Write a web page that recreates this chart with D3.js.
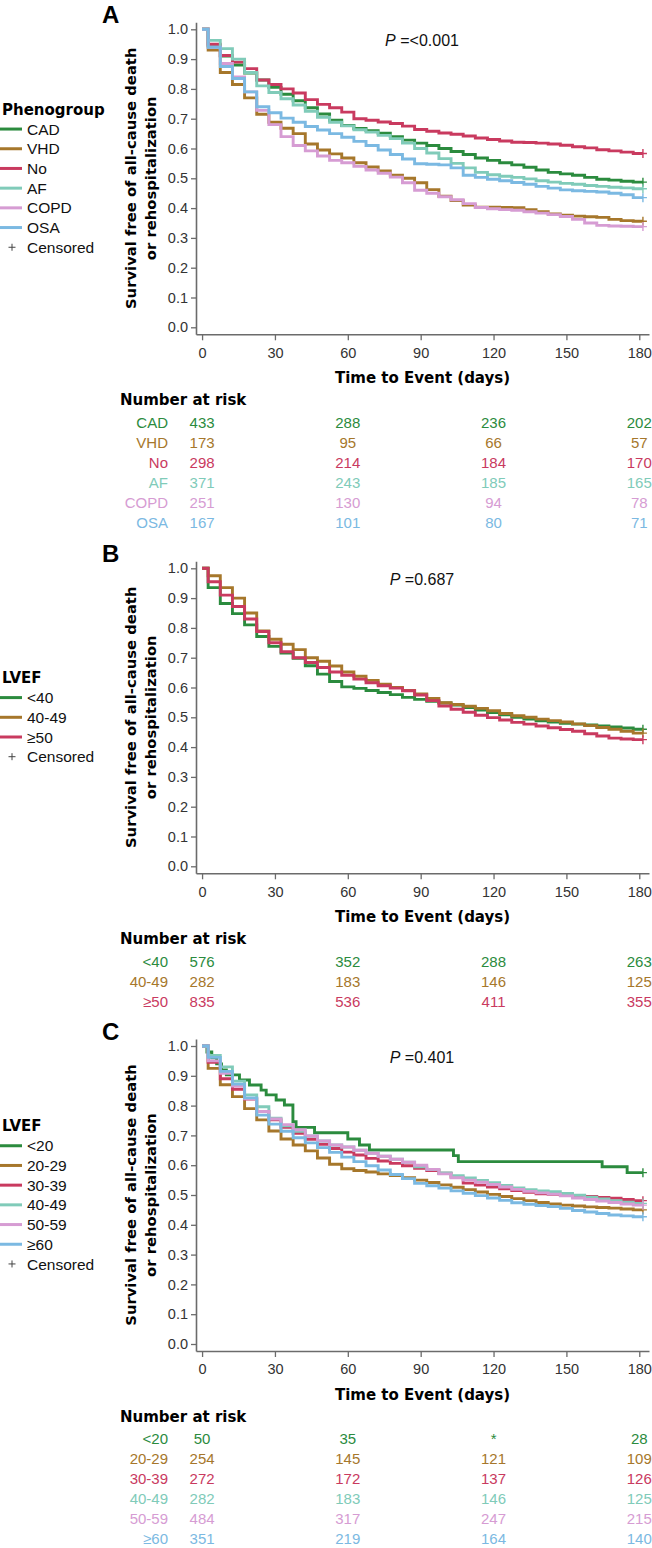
<!DOCTYPE html>
<html><head><meta charset="utf-8">
<script src="https://cdn.jsdelivr.net/npm/d3@7"></script>
<style>
html,body{margin:0;padding:0;background:#fff;}
svg{display:block;}
</style></head>
<body>
<svg id="chart" width="652" height="1548"></svg>
<script>
// ---------- DATA ----------
const days = [0,5,10,15,20,25,30,35,40,45,50,55,60,65,70,75,80,85,90,95,100,105,110,115,120,125,130,135,140,145,150,155,160,165,170,175,180];
const xTicks = [0,30,60,90,120,150,180];
const yTicks = [0,0.1,0.2,0.3,0.4,0.5,0.6,0.7,0.8,0.9,1.0];
const riskTimes = [0,60,120,180];

// Panel A: phenogroups
const groupsA = ["CAD","VHD","No","AF","COPD","OSA"];
const survCAD  = [1.0,0.945,0.91,0.88,0.853,0.83,0.805,0.782,0.76,0.737,0.716,0.695,0.677,0.667,0.66,0.651,0.64,0.628,0.618,0.61,0.6,0.59,0.58,0.568,0.56,0.552,0.545,0.537,0.528,0.52,0.515,0.51,0.503,0.497,0.494,0.49,0.487];
const survVHD  = [1.0,0.93,0.855,0.815,0.77,0.715,0.688,0.668,0.65,0.615,0.595,0.582,0.568,0.552,0.538,0.525,0.51,0.5,0.485,0.462,0.44,0.425,0.41,0.403,0.403,0.402,0.401,0.395,0.388,0.38,0.376,0.373,0.371,0.369,0.362,0.358,0.356];
const survNo   = [1.0,0.95,0.912,0.89,0.868,0.83,0.815,0.80,0.786,0.764,0.748,0.737,0.722,0.70,0.695,0.689,0.684,0.675,0.664,0.658,0.652,0.648,0.642,0.635,0.63,0.625,0.621,0.62,0.618,0.615,0.611,0.606,0.602,0.596,0.592,0.588,0.583];
const survAF   = [1.0,0.963,0.935,0.9,0.855,0.81,0.788,0.767,0.746,0.725,0.705,0.688,0.676,0.663,0.655,0.644,0.633,0.618,0.6,0.585,0.566,0.55,0.535,0.52,0.512,0.507,0.503,0.498,0.492,0.487,0.483,0.48,0.476,0.473,0.47,0.468,0.465];
const survCOPD = [1.0,0.94,0.885,0.84,0.79,0.728,0.68,0.64,0.61,0.592,0.575,0.56,0.552,0.54,0.528,0.517,0.504,0.485,0.46,0.45,0.438,0.428,0.415,0.402,0.398,0.395,0.393,0.388,0.383,0.378,0.372,0.362,0.35,0.342,0.34,0.339,0.338];
const survOSA  = [1.0,0.94,0.875,0.835,0.79,0.74,0.72,0.702,0.688,0.674,0.662,0.65,0.638,0.624,0.61,0.595,0.58,0.565,0.549,0.547,0.545,0.535,0.51,0.503,0.497,0.492,0.486,0.48,0.473,0.467,0.461,0.458,0.456,0.454,0.45,0.445,0.435];
const riskCAD  = [433,288,236,202];
const riskVHD  = [173,95,66,57];
const riskNo   = [298,214,184,170];
const riskAF   = [371,243,185,165];
const riskCOPD = [251,130,94,78];
const riskOSA  = [167,101,80,71];

// Panel B: LVEF 3 groups
const groupsB = ["<40","40-49","\u226550"];
const survB40   = [1.0,0.935,0.882,0.848,0.81,0.771,0.738,0.716,0.698,0.673,0.645,0.62,0.602,0.597,0.59,0.583,0.576,0.567,0.56,0.554,0.548,0.541,0.533,0.524,0.516,0.508,0.5,0.494,0.488,0.484,0.48,0.477,0.474,0.471,0.468,0.464,0.46];
const survB4049 = [1.0,0.975,0.935,0.9,0.85,0.79,0.762,0.745,0.727,0.7,0.688,0.672,0.652,0.638,0.624,0.611,0.6,0.59,0.578,0.563,0.549,0.543,0.537,0.53,0.522,0.513,0.505,0.5,0.494,0.489,0.484,0.478,0.472,0.466,0.46,0.453,0.447];
const survB50   = [1.0,0.955,0.91,0.872,0.83,0.788,0.75,0.72,0.70,0.684,0.667,0.652,0.641,0.628,0.616,0.606,0.598,0.589,0.575,0.556,0.538,0.527,0.517,0.507,0.499,0.491,0.483,0.477,0.471,0.465,0.459,0.453,0.445,0.437,0.43,0.427,0.425];
const riskB40   = [576,352,288,263];
const riskB4049 = [282,183,146,125];
const riskB50   = [835,536,411,355];

// Panel C: LVEF 6 groups
const groupsC = ["<20","20-29","30-39","40-49","50-59","\u226560"];
const stepsC20Days = [0,2,4,6,8,10,15.4,19.5,24.3,26.4,30.5,33.9,37.4,38.7,46.3,60,64.8,68.9,103.5,105.5,164.7,175];
const stepsC20Surv = [1.0,0.98,0.96,0.94,0.92,0.903,0.886,0.869,0.852,0.836,0.819,0.802,0.746,0.727,0.709,0.688,0.668,0.651,0.632,0.612,0.595,0.575];
const survC2029 = [1.0,0.925,0.87,0.83,0.79,0.752,0.715,0.688,0.668,0.648,0.624,0.603,0.588,0.582,0.577,0.571,0.565,0.558,0.55,0.542,0.534,0.526,0.518,0.51,0.502,0.495,0.488,0.481,0.475,0.47,0.466,0.463,0.46,0.458,0.456,0.453,0.45];
const survC3039 = [1.0,0.945,0.89,0.855,0.822,0.78,0.752,0.727,0.707,0.687,0.67,0.656,0.644,0.634,0.623,0.614,0.606,0.598,0.59,0.582,0.573,0.56,0.54,0.533,0.527,0.521,0.515,0.509,0.504,0.502,0.5,0.497,0.495,0.492,0.489,0.485,0.481];
const survC4049 = [1.0,0.968,0.93,0.882,0.836,0.796,0.758,0.732,0.714,0.698,0.681,0.668,0.661,0.65,0.64,0.63,0.62,0.61,0.595,0.585,0.574,0.565,0.557,0.549,0.541,0.532,0.524,0.518,0.514,0.511,0.505,0.499,0.493,0.487,0.481,0.476,0.472];
const survC5059 = [1.0,0.95,0.908,0.866,0.823,0.78,0.755,0.736,0.719,0.698,0.681,0.668,0.661,0.65,0.64,0.63,0.62,0.61,0.6,0.586,0.571,0.558,0.55,0.543,0.535,0.527,0.519,0.512,0.507,0.503,0.497,0.49,0.485,0.48,0.475,0.47,0.466];
const survC60   = [1.0,0.962,0.915,0.872,0.826,0.768,0.738,0.714,0.692,0.675,0.659,0.643,0.627,0.612,0.598,0.584,0.569,0.555,0.539,0.531,0.523,0.514,0.506,0.498,0.49,0.482,0.474,0.469,0.465,0.461,0.455,0.448,0.443,0.438,0.433,0.43,0.427];
const riskC20   = ["50","35","*","28"];
const riskC2029 = [254,145,121,109];
const riskC3039 = [272,172,137,126];
const riskC4049 = [282,183,146,125];
const riskC5059 = [484,317,247,215];
const riskC60   = [351,219,164,140];

const pValues = ["<0.001","0.687","0.401"];
const lastDay = 181.5;

// ---------- STYLE ----------
const GREEN="#2b8b3e", BROWN="#a6772b", RED="#c93a5f", TEAL="#80cbb9", PINK="#d69cd3", BLUE="#7bb9e2";
const SANS = "'Liberation Sans', Arial, sans-serif";
const BOLD = "'DejaVu Sans', Verdana, sans-serif";

const zip = (xs, ys) => xs.map((d,i)=>[d, ys[i]]);

const panels = [
  {letter:"A", y1:29.3, title:"Phenogroup", names:groupsA, colors:[GREEN,BROWN,RED,TEAL,PINK,BLUE],
   series:[survCAD,survVHD,survNo,survAF,survCOPD,survOSA].map(s=>zip(days,s)),
   exact:[false,false,false,false,false,false],
   risk:[riskCAD,riskVHD,riskNo,riskAF,riskCOPD,riskOSA], p:pValues[0]},
  {letter:"B", y1:568.3, title:"LVEF", names:groupsB, colors:[GREEN,BROWN,RED],
   series:[survB40,survB4049,survB50].map(s=>zip(days,s)),
   exact:[false,false,false],
   risk:[riskB40,riskB4049,riskB50], p:pValues[1]},
  {letter:"C", y1:1046, title:"LVEF", names:groupsC, colors:[GREEN,BROWN,RED,TEAL,PINK,BLUE],
   series:[zip(stepsC20Days,stepsC20Surv)].concat([survC2029,survC3039,survC4049,survC5059,survC60].map(s=>zip(days,s))),
   exact:[true,false,false,false,false,false],
   risk:[riskC20,riskC2029,riskC3039,riskC4049,riskC5059,riskC60], p:pValues[2]}
];

const svg = d3.select("#chart");
const x = d3.scaleLinear().domain([-2.5,184]).range([196,649]);

panels.forEach(pn => {
  const y1 = pn.y1;
  const y = d3.scaleLinear().domain([-0.0235,1.0235]).range([y1+305, y1-7]);
  const g = svg.append("g");

  // panel letter
  g.append("text").attr("x",102).attr("y",y1-6)
    .style("font-family",SANS).style("font-weight","bold").style("font-size","24px")
    .text(pn.letter);

  // axes
  const xAxis = d3.axisBottom(x).tickValues(xTicks).tickSize(6).tickSizeOuter(0).tickPadding(7).tickFormat(d3.format("d"));
  const yAxis = d3.axisLeft(y).tickValues(yTicks).tickSize(5).tickSizeOuter(0).tickPadding(3).tickFormat(d3.format(".1f"));
  const gx = g.append("g").attr("transform",`translate(0,${y1+305})`).call(xAxis);
  const gy = g.append("g").attr("transform",`translate(196,0)`).call(yAxis);
  [gx,gy].forEach(a=>{
    a.select(".domain").attr("stroke","#6b6b6b").attr("stroke-width",1.6);
    a.selectAll(".tick line").attr("stroke","#6b6b6b").attr("stroke-width",1.3);
    a.selectAll(".tick text").attr("fill","#333").style("font-family",SANS).style("font-size","14.5px");
  });

  // axis titles
  const cy = y1+149;
  const yt = g.append("g").style("font-family",BOLD).style("font-weight","bold").style("font-size","14.8px").attr("fill","#000");
  yt.append("text").attr("transform",`translate(136,${cy}) rotate(-90)`).attr("text-anchor","middle").text("Survival free of all-cause death");
  yt.append("text").attr("transform",`translate(156,${cy}) rotate(-90)`).attr("text-anchor","middle").text("or rehospitalization");
  g.append("text").attr("x",422.5).attr("y",y1+354).attr("text-anchor","middle")
    .style("font-family",BOLD).style("font-weight","bold").style("font-size","15px").text("Time to Event (days)");

  // P value
  const pt = g.append("text").attr("x",422).attr("y",y1+16.5).attr("text-anchor","middle")
    .style("font-family",SANS).style("font-size","16px").attr("fill","#111");
  pt.append("tspan").style("font-style","italic").text("P");
  pt.append("tspan").text(" =" + pn.p);

  // curves
  const lineMid = d3.line().x(d=>x(d[0])).y(d=>y(d[1])).curve(d3.curveStep);
  const lineAfter = d3.line().x(d=>x(d[0])).y(d=>y(d[1])).curve(d3.curveStepAfter);
  pn.series.forEach((s,i)=>{
    const pts = s.concat([[lastDay, s[s.length-1][1]]]);
    const ln = pn.exact[i] ? lineAfter : lineMid;
    g.append("path").attr("d",ln(pts)).attr("fill","none")
      .attr("stroke",pn.colors[i]).attr("stroke-width",2.9).attr("stroke-linejoin","miter");
    const ex = x(lastDay), ey = y(s[s.length-1][1]);
    g.append("path").attr("d",`M${ex-4},${ey}H${ex+4}M${ex},${ey-4.5}V${ey+4.5}`)
      .attr("stroke",pn.colors[i]).attr("stroke-width",1.4).attr("fill","none");
  });

  // legend
  const n = pn.names.length;
  const step = 19.7;
  const ly0 = cy - (n+1)/2*step;
  const lg = g.append("g");
  lg.append("text").attr("x",2).attr("y",ly0).attr("dy","0.36em")
    .style("font-family",BOLD).style("font-weight","bold").style("font-size","15px").text(pn.title);
  pn.names.forEach((nm,i)=>{
    const yy = ly0 + (i+1)*step;
    lg.append("line").attr("x1",0).attr("x2",22).attr("y1",yy).attr("y2",yy)
      .attr("stroke",pn.colors[i]).attr("stroke-width",3);
    lg.append("text").attr("x",27).attr("y",yy).attr("dy","0.36em")
      .style("font-family",SANS).style("font-size","15.5px").attr("fill","#111").text(nm);
  });
  const cyy = ly0 + (n+1)*step;
  lg.append("path").attr("d",`M${8.5},${cyy}H${15.5}M12,${cyy-3.5}V${cyy+3.5}`).attr("stroke","#444").attr("stroke-width",1);
  lg.append("text").attr("x",27).attr("y",cyy).attr("dy","0.36em")
    .style("font-family",SANS).style("font-size","15.5px").attr("fill","#111").text("Censored");

  // number at risk
  g.append("text").attr("x",120).attr("y",y1+376)
    .style("font-family",BOLD).style("font-weight","bold").style("font-size","15px").text("Number at risk");
  pn.risk.forEach((row,i)=>{
    const ry = y1+393 + i*20;
    g.append("text").attr("x",168).attr("y",ry).attr("dy","0.36em").attr("text-anchor","end")
      .style("font-family",SANS).style("font-size","15px").attr("fill",pn.colors[i]).text(pn.names[i]);
    row.forEach((v,j)=>{
      g.append("text").attr("x",x(riskTimes[j])).attr("y",ry).attr("dy","0.36em").attr("text-anchor","middle")
        .style("font-family",SANS).style("font-size","15px").attr("fill",pn.colors[i]).text(v);
    });
  });
});
</script>
</body></html>
